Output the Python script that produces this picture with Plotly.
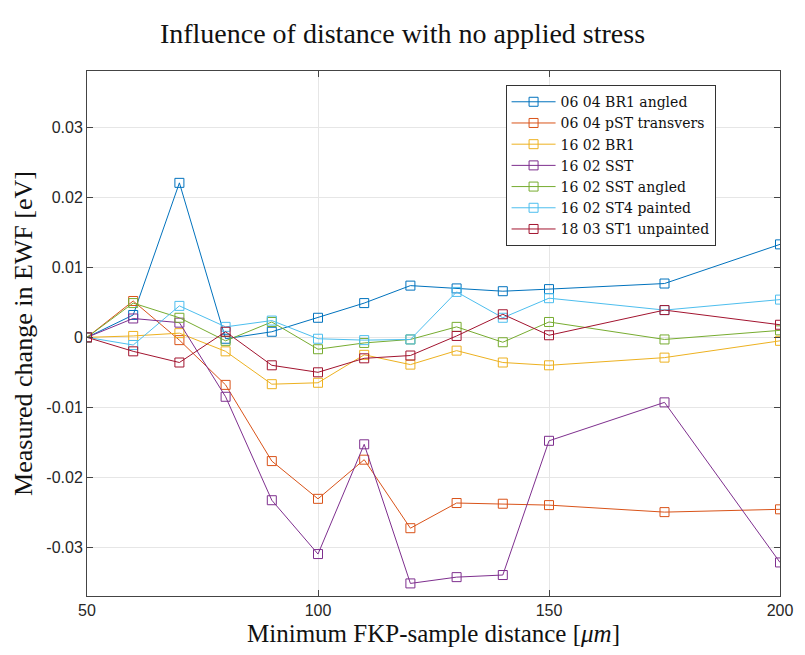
import plotly.graph_objects as go

distance = [50, 60, 70, 80, 90, 100, 110, 120, 130, 140, 150, 175, 200]

series_names = [
    "06 04 BR1 angled",
    "06 04 pST transvers",
    "16 02 BR1",
    "16 02 SST",
    "16 02 SST angled",
    "16 02 ST4 painted",
    "18 03 ST1 unpainted",
]

br1_angled_0604 = [0, 0.0032, 0.0221, -0.0002, 0.0008, 0.0028, 0.0049, 0.0074, 0.0070, 0.0066, 0.0069, 0.0077, 0.0133]
pst_transvers_0604 = [0, 0.0052, -0.0004, -0.0068, -0.0177, -0.0231, -0.0175, -0.0273, -0.0237, -0.0238, -0.0240, -0.0250, -0.0246]
br1_1602 = [0, 0.0002, 0.0006, -0.0020, -0.0067, -0.0065, -0.0025, -0.0039, -0.0019, -0.0036, -0.0040, -0.0029, -0.0005]
sst_1602 = [0, 0.0027, 0.0021, -0.0085, -0.0233, -0.0310, -0.0153, -0.0352, -0.0343, -0.0340, -0.0148, -0.0093, -0.0322]
sst_angled_1602 = [0, 0.0049, 0.0028, -0.0005, 0.0022, -0.0017, -0.0008, -0.0003, 0.0015, -0.0007, 0.0022, -0.0003, 0.0010]
st4_painted_1602 = [0, -0.0011, 0.0045, 0.0015, 0.0024, -0.0002, -0.0004, -0.0003, 0.0065, 0.0028, 0.0056, 0.0039, 0.0054]
st1_unpainted_1803 = [0, -0.0020, -0.0036, 0.0008, -0.0040, -0.0050, -0.0030, -0.0026, 0.0002, 0.0033, 0.0003, 0.0039, 0.0018]

all_series = [br1_angled_0604, pst_transvers_0604, br1_1602, sst_1602,
              sst_angled_1602, st4_painted_1602, st1_unpainted_1803]
colors = ["#0072BD", "#D95319", "#EDB120", "#7E2F8E", "#77AC30", "#4DBEEE", "#A2142F"]

x_ticks = [50, 100, 150, 200]
y_ticks = [-0.03, -0.02, -0.01, 0, 0.01, 0.02, 0.03]
y_tick_text = ["-0.03", "-0.02", "-0.01", "0", "0.01", "0.02", "0.03"]

fig = go.Figure()
for name, vals, c in zip(series_names, all_series, colors):
    fig.add_trace(go.Scatter(
        x=distance, y=vals, name=name, mode="lines+markers",
        line=dict(color=c, width=1),
        marker=dict(symbol="square-open", size=9, color=c, line=dict(width=1, color=c)),
    ))

serif = "Liberation Serif"
sans = "Liberation Sans"

fig.update_layout(
    width=805, height=655,
    margin=dict(l=87, r=16, t=71, b=55),
    paper_bgcolor="white", plot_bgcolor="white",
    title=dict(text="Influence of distance with no applied stress",
               font=dict(family=serif, size=28, color="#111"),
               x=0.5, xanchor="center", y=1 - 33 / 655, yanchor="middle"),
    legend=dict(x=0.604, y=0.973, xanchor="left", yanchor="top",
                bgcolor="white", bordercolor="#333", borderwidth=1,
                font=dict(family="DejaVu Serif", size=14, color="#111"),
                tracegroupgap=0, itemwidth=44),
    showlegend=True,
)
fig.update_xaxes(
    range=[50, 200], tickvals=x_ticks, ticktext=[str(v) for v in x_ticks],
    showgrid=True, gridcolor="#e6e6e6", gridwidth=1,
    showline=True, linecolor="#444", linewidth=1, mirror="ticks",
    ticks="inside", ticklen=6, tickcolor="#444",
    zeroline=False,
    tickfont=dict(family=sans, size=16, color="#262626"),
    title=dict(text="Minimum FKP-sample distance [<i>μm</i>]",
               font=dict(family=serif, size=25, color="#111"), standoff=6),
)
fig.update_yaxes(
    range=[-0.0370, 0.0381], tickvals=y_ticks, ticktext=y_tick_text,
    showgrid=True, gridcolor="#e6e6e6", gridwidth=1,
    showline=True, linecolor="#444", linewidth=1, mirror="ticks",
    ticks="inside", ticklen=6, tickcolor="#444",
    zeroline=False,
    tickfont=dict(family=sans, size=16, color="#262626"),
    title=dict(text="Measured change in EWF [eV]",
               font=dict(family=serif, size=26, color="#111"), standoff=6),
)

fig.write_html("out.html")
